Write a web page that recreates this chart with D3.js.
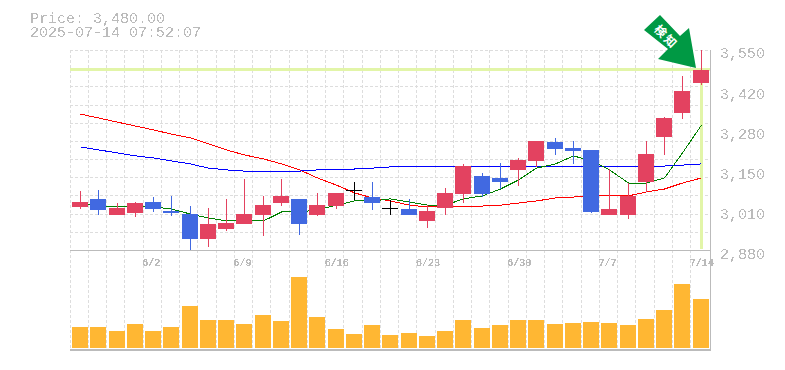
<!DOCTYPE html>
<html>
<head>
<meta charset="utf-8">
<style>
  body { margin: 0; background: #fff; }
  text { font-family: "Liberation Mono", monospace; fill: #bbb; }
  .crisp { shape-rendering: crispEdges; }
</style>
</head>
<body>
<div id="chart"></div>
<script src="https://cdnjs.cloudflare.com/ajax/libs/d3/7.8.5/d3.min.js"></script>
<script>
var width = 785, height = 370;

var priceText = "Price: 3,480.00";
var timeText = "2025-07-14 07:52:07";
var lastPrice = 3480;
var lastIndex = 34;

// x labels sit on every 5th trading day
var dates = ["5/27","5/28","5/29","5/30","6/2","6/3","6/4","6/5","6/6","6/9","6/10","6/11","6/12","6/13","6/16","6/17","6/18","6/19","6/20","6/23","6/24","6/25","6/26","6/27","6/30","7/1","7/2","7/3","7/4","7/7","7/8","7/9","7/10","7/11","7/14"];
var dateTicks = ["6/2","6/9","6/16","6/23","6/30","7/7","7/14"];
var priceTicks = ["3,550","3,420","3,280","3,150","3,010","2,880"];

var opens  = [3021,3047,2994,3001,3037,3007,2997,2914,2947,2964,2994,3034,3047,2994,3024,3078,3054,3017,3014,2974,3017,3064,3125,3118,3145,3175,3238,3218,3212,2994,2994,3104,3255,3336,3436];
var highs  = [3074,3078,3034,3037,3054,3058,3024,3017,3047,3114,3058,3114,3047,3068,3068,3104,3104,3044,3047,3027,3084,3165,3135,3168,3185,3242,3252,3242,3212,3148,3101,3242,3322,3460,3547];
var lows   = [3014,2994,2994,2987,3004,2991,2877,2887,2940,2964,2924,3024,2927,2991,3014,3044,3011,2994,2994,2950,2994,3034,3054,3081,3091,3155,3195,3165,3001,2994,2981,3071,3195,3315,3429];
var closes = [3037,3011,3017,3034,3014,3001,2914,2964,2967,2997,3027,3058,2964,3027,3068,3078,3034,3017,2994,3007,3068,3158,3064,3104,3178,3242,3215,3208,3004,3014,3058,3198,3319,3409,3480];

var maShort = [3031,3024,3021,3021,3021,3014,2997,2984,2974,2974,2974,3004,3004,3011,3027,3041,3041,3048,3037,3027,3027,3048,3058,3081,3111,3151,3165,3192,3175,3145,3101,3101,3118,3202,3295];
var maMid   = [3222,3212,3202,3192,3185,3175,3165,3151,3145,3141,3141,3141,3141,3145,3145,3148,3151,3155,3155,3155,3155,3155,3155,3155,3155,3158,3158,3158,3158,3158,3158,3158,3158,3161,3165];
var maLong  = [3332,3319,3305,3292,3279,3265,3252,3232,3212,3195,3182,3165,3145,3118,3094,3068,3051,3041,3027,3021,3021,3024,3024,3027,3034,3041,3051,3054,3058,3058,3058,3071,3081,3101,3118];

var volumes = [21000,21000,17000,24000,17000,21000,42000,28000,28000,24000,33000,27000,71000,31000,19000,14000,23000,13000,15000,12000,17000,28000,20000,23000,28000,28000,24000,25000,26000,25000,23000,29000,38000,64000,49000];

var colorUp = "#e34260", colorDown = "#4169e1", colorDoji = "#000";

var svg = d3.select("#chart").append("svg")
    .attr("width", width)
    .attr("height", height)
    .style("display", "block");

// the reference text has no anti-aliasing, so threshold the alpha
// (small date labels need a lower cut or their strokes drop out)
var defs = svg.append("defs");
[["aliased", "0 1"], ["aliasedSmall", "0 1 1 1"]].forEach(function (f) {
  defs.append("filter")
    .attr("id", f[0])
    .append("feComponentTransfer")
    .append("feFuncA")
    .attr("type", "discrete")
    .attr("tableValues", f[1]);
});

// Define scales
var xScale = d3.scaleBand().domain(dates).range([70, 708.75]);
var yScale = d3.scaleLinear().domain([2875, 3545]).range([250.5, 50.5]);
var volScale = d3.scaleLinear().domain([0, 71000]).range([348, 277]);
var gridY = d3.scaleLinear().domain([0, 11]).range([50.5, 250.5]);
var labelY = d3.scalePoint().domain(priceTicks).range([53, 254]);

var barLeft = d => Math.round(xScale(d) + 2);
var barMid = d => barLeft(d) + 8;

// Grid
var grid = svg.append("g").attr("class", "crisp")
    .attr("stroke", "#ddd")
    .attr("stroke-dasharray", "3,2");

grid.selectAll(".vgrid")
    .data(dates)
    .enter()
    .append("line")
    .attr("x1", d => Math.floor(xScale(d)) + 0.5)
    .attr("x2", d => Math.floor(xScale(d)) + 0.5)
    .attr("y1", 50)
    .attr("y2", 350);

grid.selectAll(".hgrid")
    .data(d3.range(12))
    .enter()
    .append("line")
    .attr("x1", 70)
    .attr("x2", 710)
    .attr("y1", d => Math.floor(gridY(d)) + 0.5)
    .attr("y2", d => Math.floor(gridY(d)) + 0.5);

// Frame
var frame = svg.append("g").attr("class", "crisp").attr("stroke", "#bbb");
frame.append("line").attr("x1", 70).attr("x2", 711).attr("y1", 250.5).attr("y2", 250.5);
frame.append("line").attr("x1", 70).attr("x2", 711).attr("y1", 350).attr("y2", 350).attr("stroke-width", 2);
frame.append("line").attr("x1", 710.5).attr("x2", 710.5).attr("y1", 50).attr("y2", 351);

// Current price marker
var marker = svg.append("g").attr("class", "crisp").attr("stroke", "#e2f5a8").attr("stroke-width", 3);
marker.append("line").attr("x1", 70).attr("x2", 710).attr("y1", yScale(lastPrice)).attr("y2", yScale(lastPrice));
marker.append("line")
    .attr("x1", barMid(dates[lastIndex]))
    .attr("x2", barMid(dates[lastIndex]))
    .attr("y1", yScale(lastPrice))
    .attr("y2", 249);

// Moving averages
var maLine = d3.line()
    .x((d, i) => barMid(dates[i]) + 0.5)
    .y(d => yScale(d));

[[maLong, "#f00"], [maMid, "#00f"], [maShort, "#008000"]].forEach(function (m) {
  svg.append("path")
    .datum(m[0])
    .attr("class", "crisp")
    .attr("d", maLine)
    .attr("fill", "none")
    .attr("stroke", m[1]);
});

// Candles
var candles = svg.selectAll(".candle")
    .data(dates)
    .enter()
    .append("g")
    .attr("class", "candle crisp");

function candleColor(d, i) {
  if (opens[i] === closes[i]) return colorDoji;
  return closes[i] > opens[i] ? colorUp : colorDown;
}

candles.append("line")
    .attr("x1", d => barMid(d) + 0.5)
    .attr("x2", d => barMid(d) + 0.5)
    .attr("y1", (d, i) => yScale(highs[i]))
    .attr("y2", (d, i) => yScale(lows[i]))
    .attr("stroke", candleColor);

candles.append("rect")
    .attr("x", d => barLeft(d))
    .attr("width", 16)
    .attr("y", (d, i) => yScale(Math.max(opens[i], closes[i])))
    .attr("height", (d, i) => Math.max(1, Math.abs(yScale(opens[i]) - yScale(closes[i]))))
    .attr("fill", candleColor);

// Volume
svg.selectAll(".vol")
    .data(dates)
    .enter()
    .append("rect")
    .attr("class", "vol crisp")
    .attr("x", d => barLeft(d))
    .attr("width", 16)
    .attr("y", (d, i) => volScale(volumes[i]))
    .attr("height", (d, i) => volScale(0) - volScale(volumes[i]))
    .attr("fill", "#ffb733");

// Axis labels
var yAxis = d3.axisRight(labelY).tickSize(0).tickPadding(0);
var yG = svg.append("g").attr("transform", "translate(720,0)").call(yAxis);
yG.select(".domain").remove();
yG.selectAll("text").style("font-size", "15px").attr("fill", null).attr("filter", "url(#aliased)");

var xAxis = d3.axisBottom(xScale).tickValues(dateTicks).tickSize(0).tickPadding(0);
var xG = svg.append("g").attr("transform", "translate(-10,259)").call(xAxis);
xG.select(".domain").remove();
xG.selectAll("text")
    .style("font-size", "10px")
    .style("text-anchor", "start")
    .attr("fill", null)
    .attr("filter", "url(#aliasedSmall)");

// Header
svg.append("text").attr("x", 30).attr("y", 23).style("font-size", "15px").attr("filter", "url(#aliased)").text(priceText);
svg.append("text").attr("x", 30).attr("y", 37).style("font-size", "15px").attr("filter", "url(#aliased)").text(timeText);

// Signal arrow
var arrow = svg.append("g");
arrow.append("path")
    .attr("d", "M660,15 L680,36 L689,28 L696,68 L658,59 L668,49 L644,30 Z")
    .attr("fill", "#009944");
arrow.append("text")
    .attr("transform", "translate(666,37) rotate(45)")
    .attr("text-anchor", "middle")
    .attr("dy", "0.35em")
    .style("font-family", "'Noto Sans CJK JP'")
    .style("font-size", "12px")
    .style("font-weight", "bold")
    .style("letter-spacing", "2px")
    .style("fill", "#fff")
    .text("検知");
</script>
</body>
</html>
